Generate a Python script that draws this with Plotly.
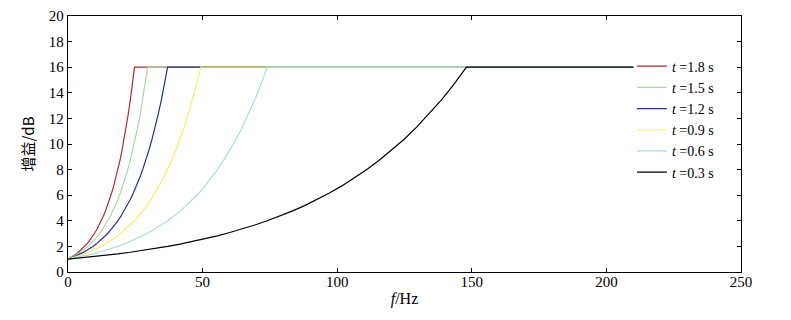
import plotly.graph_objects as go

# Gain levels (dB) that each curve passes through
gain_levels = [1.000, 1.091, 1.189, 1.297, 1.414, 1.542, 1.682, 1.834, 2.000,
               2.181, 2.378, 2.594, 2.828, 3.084, 3.364, 3.668, 4.000,
               4.362, 4.757, 5.187, 5.657, 6.169, 6.727, 7.336, 8.000,
               8.724, 9.514, 10.375, 11.314, 12.338, 13.454, 14.672, 16.000, 16.000]

# Frequencies (Hz) at which each curve reaches the gain levels above
f_t18 = [0, 0.77, 1.54, 2.32, 3.09, 3.86, 4.63, 5.40, 6.18, 6.95, 7.72, 8.49, 9.26, 10.03,
         10.81, 11.58, 12.35, 13.12, 13.89, 14.66, 15.44, 16.21, 16.98, 17.75, 18.52,
         19.30, 20.07, 20.84, 21.61, 22.38, 23.16, 23.93, 24.7, 210]
f_t15 = [0, 0.93, 1.85, 2.78, 3.7, 4.63, 5.55, 6.48, 7.4, 8.33, 9.25, 10.18, 11.1, 12.03,
         12.95, 13.88, 14.8, 15.73, 16.65, 17.58, 18.5, 19.43, 20.35, 21.28, 22.2,
         23.13, 24.05, 24.98, 25.9, 26.83, 27.75, 28.68, 29.6, 210]
f_t12 = [0, 1.16, 2.31, 3.47, 4.63, 5.78, 6.94, 8.09, 9.25, 10.41, 11.56, 12.72, 13.88, 15.03,
         16.19, 17.34, 18.5, 19.66, 20.81, 21.97, 23.13, 24.28, 25.44, 26.59, 27.75,
         28.91, 30.06, 31.22, 32.38, 33.53, 34.69, 35.84, 37.0, 210]
f_t09 = [0, 1.54, 3.08, 4.62, 6.16, 7.70, 9.24, 10.78, 12.33, 13.87, 15.41, 16.95, 18.49, 20.03,
         21.57, 23.11, 24.65, 26.19, 27.73, 29.27, 30.81, 32.35, 33.89, 35.43, 36.98,
         38.52, 40.06, 41.60, 43.14, 44.68, 46.22, 47.76, 49.3, 210]
f_t06 = [0, 2.3, 4.6, 6.9, 9.25, 11.6, 13.9, 16.2, 18.5, 20.8, 23.1, 25.4, 27.75, 30.1,
         32.4, 34.7, 37.0, 39.3, 41.6, 43.9, 46.25, 48.6, 50.9, 53.2, 55.5,
         57.8, 60.1, 62.4, 64.75, 67.1, 69.4, 71.7, 74.0, 210]
f_t03 = [0, 4.6, 9.25, 13.9, 18.5, 23.1, 27.75, 32.4, 37.0, 41.6, 46.25, 50.9, 55.5, 60.1,
         64.75, 69.4, 74.0, 78.6, 83.25, 87.9, 92.5, 97.1, 101.75, 106.4, 111.0,
         115.6, 120.25, 124.9, 129.5, 134.1, 138.75, 143.4, 148.0, 210]

series_names = ["<i>t</i> =1.8 s", "<i>t</i> =1.5 s", "<i>t</i> =1.2 s",
                "<i>t</i> =0.9 s", "<i>t</i> =0.6 s", "<i>t</i> =0.3 s"]
series_freqs = [f_t18, f_t15, f_t12, f_t09, f_t06, f_t03]
series_colors = ["#b42a2c", "#a9d8a6", "#25308a", "#f2ee6a", "#a6dce2", "#000000"]

x_ticks = [0, 50, 100, 150, 200, 250]
y_ticks = [0, 2, 4, 6, 8, 10, 12, 14, 16, 18, 20]

FONT = "Liberation Serif, Times New Roman, Noto Sans CJK SC, serif"

fig = go.Figure()
for name, fr, col in zip(series_names, series_freqs, series_colors):
    fig.add_trace(go.Scatter(
        x=fr, y=gain_levels, mode="lines", name=name,
        line=dict(color=col, width=1.2),
    ))

axis_common = dict(
    showline=True, linecolor="black", linewidth=1.3, mirror="ticks",
    ticks="inside", ticklen=4, tickwidth=1, tickcolor="black",
    showgrid=False, zeroline=False, automargin=False,
    tickfont=dict(family=FONT, size=15, color="black"),
)

# page body adds an 8 px offset, so the figure is sized 8 px smaller
fig.update_layout(
    width=783, height=312,
    margin=dict(l=60, r=50, t=8, b=48),
    paper_bgcolor="white", plot_bgcolor="white",
    font=dict(family=FONT, color="black"),
    xaxis=dict(range=[0, 250], tickvals=x_ticks, **axis_common,
               ticklabelstandoff=-4,
               title=dict(text="<i>f</i>/Hz", font=dict(family=FONT, size=16), standoff=3)),
    yaxis=dict(range=[0, 20], tickvals=y_ticks, **axis_common,
               title=dict(text="增益/dB", font=dict(family="Noto Sans CJK SC, Liberation Serif", size=15), standoff=10)),
    legend=dict(x=0.838, y=0.865, xanchor="left", yanchor="top",
                bgcolor="rgba(0,0,0,0)", borderwidth=0,
                font=dict(family=FONT, size=14, color="black"),
                tracegroupgap=0, itemwidth=30),
    showlegend=True,
)

fig.write_html("out.html")
